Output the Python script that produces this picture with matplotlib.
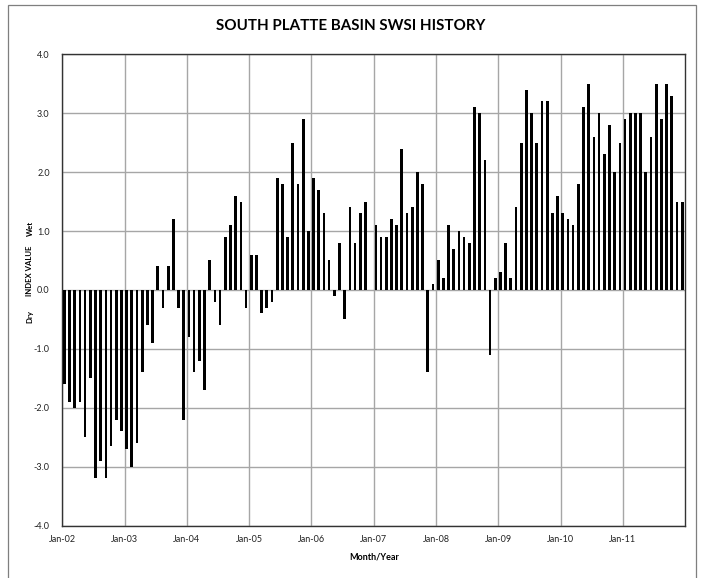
import numpy as np
import matplotlib.pyplot as plt
import matplotlib.patches as mpatches

# monthly SWSI values, Jan-2002 .. Dec-2011
swsi_2002 = [-1.6, -1.9, -2.0, -1.9, -2.5, -1.5, -3.2, -2.9, -3.2, -2.65, -2.2, -2.4]
swsi_2003 = [-2.7, -3.0, -2.6, -1.4, -0.6, -0.9, 0.4, -0.3, 0.4, 1.2, -0.3, -2.2]
swsi_2004 = [-0.8, -1.4, -1.2, -1.7, 0.5, -0.2, -0.6, 0.9, 1.1, 1.6, 1.5, -0.3]
swsi_2005 = [0.6, 0.6, -0.4, -0.3, -0.2, 1.9, 1.8, 0.9, 2.5, 1.8, 2.9, 1.0]
swsi_2006 = [1.9, 1.7, 1.3, 0.5, -0.1, 0.8, -0.5, 1.4, 0.8, 1.3, 1.5, 0.0]
swsi_2007 = [1.1, 0.9, 0.9, 1.2, 1.1, 2.4, 1.3, 1.4, 2.0, 1.8, -1.4, 0.1]
swsi_2008 = [0.5, 0.2, 1.1, 0.7, 1.0, 0.9, 0.8, 3.1, 3.0, 2.2, -1.1, 0.2]
swsi_2009 = [0.3, 0.8, 0.2, 1.4, 2.5, 3.4, 3.0, 2.5, 3.2, 3.2, 1.3, 1.6]
swsi_2010 = [1.3, 1.2, 1.1, 1.8, 3.1, 3.5, 2.6, 3.0, 2.3, 2.8, 2.0, 2.5]
swsi_2011 = [2.9, 3.0, 3.0, 3.0, 2.0, 2.6, 3.5, 2.9, 3.5, 3.3, 1.5, 1.5]

year_labels = ['Jan-02', 'Jan-03', 'Jan-04', 'Jan-05', 'Jan-06',
               'Jan-07', 'Jan-08', 'Jan-09', 'Jan-10', 'Jan-11']

values = (swsi_2002 + swsi_2003 + swsi_2004 + swsi_2005 + swsi_2006 +
          swsi_2007 + swsi_2008 + swsi_2009 + swsi_2010 + swsi_2011)
months = np.arange(len(values))

plt.rcParams['font.family'] = ['Lato', 'DejaVu Sans']

fig = plt.figure(figsize=(7.02, 5.78), dpi=100)
ax = fig.add_axes([0.0887, 0.0908, 0.8875, 0.8152])

# outer chart frame
frame = mpatches.Rectangle((8 / 702, -0.02), 688 / 702, 1.011, transform=fig.transFigure,
                           fill=False, edgecolor='#7f7f7f', linewidth=0.9)
fig.patches.append(frame)

ax.bar(months + 0.4, values, width=0.52, color='black', zorder=3)

ax.set_xlim(0, 120)
ax.set_ylim(-4, 4)
ax.set_yticks(np.arange(-4, 4.1, 1))
ax.set_yticklabels(['%.1f' % v for v in np.arange(-4, 4.1, 1)])
ax.set_xticks(np.arange(0, 120, 12))
ax.set_xticklabels(year_labels)
ax.tick_params(axis='both', length=0, labelsize=6.5, colors='#222222')
ax.tick_params(axis='x', pad=7)
ax.tick_params(axis='y', pad=9)

ax.grid(True, color='#a6a6a6', linewidth=1.0, zorder=0)
for s in ax.spines.values():
    s.set_color('#333333')
    s.set_linewidth(1.0)

fig.text(0.5, 1 - 25.5 / 578, 'SOUTH PLATTE BASIN SWSI HISTORY', ha='center', va='center',
         fontsize=10.9, fontweight='bold')
ax.set_xlabel('Month/Year', fontsize=6.5, fontweight='bold', labelpad=6)

# split y label: Dry / INDEX VALUE / Wet
ylab = dict(rotation=90, ha='center', va='center', fontsize=5.6, fontweight='bold')
fig.text(30 / 702, 1 - 228.5 / 578, 'Wet', **ylab)
fig.text(30 / 702, 1 - 271 / 578, 'INDEX VALUE', **ylab)
fig.text(30 / 702, 1 - 316 / 578, 'Dry', **ylab)

fig.savefig('out.png', dpi=100)
